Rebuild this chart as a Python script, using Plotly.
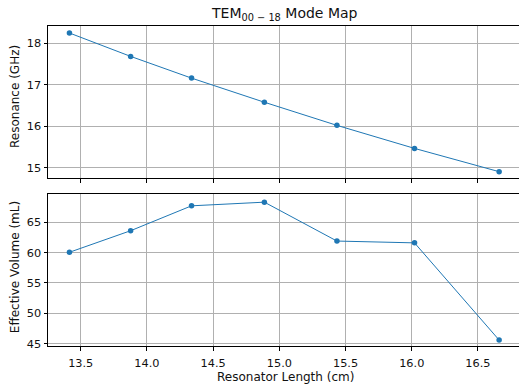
import plotly.graph_objects as go

# Resonator length sweep for the TEM00-18 mode
length_cm = [13.415, 13.877, 14.337, 14.887, 15.435, 16.021, 16.66]
resonance_ghz = [18.245, 17.683, 17.16, 16.58, 16.024, 15.47, 14.91]
eff_volume_ml = [60.05, 63.6, 67.7, 68.3, 61.9, 61.6, 45.6]

x_ticks = [13.5, 14.0, 14.5, 15.0, 15.5, 16.0, 16.5]
res_ticks = [15, 16, 17, 18]
vol_ticks = [45, 50, 55, 60, 65]

blue = "#1f77b4"
font = "DejaVu Sans"
W, H = 519, 385
L = 48

fig = go.Figure()
fig.add_trace(go.Scatter(x=length_cm, y=resonance_ghz, mode="lines+markers",
                         line=dict(color=blue, width=1), marker=dict(color=blue, size=5.5),
                         xaxis="x", yaxis="y", showlegend=False))
fig.add_trace(go.Scatter(x=length_cm, y=eff_volume_ml, mode="lines+markers",
                         line=dict(color=blue, width=1), marker=dict(color=blue, size=5.5),
                         xaxis="x2", yaxis="y2", showlegend=False))

xcommon = dict(range=[13.253, 16.81], tickvals=x_ticks, showgrid=True, gridcolor="#b0b0b0",
               gridwidth=1, showline=True, linecolor="black", linewidth=1, mirror=True,
               ticks="outside", ticklen=3.5, tickcolor="black", zeroline=False,
               tickfont=dict(family=font, size=11.3, color="#111"))
ycommon = dict(showgrid=True, gridcolor="#b0b0b0", gridwidth=1, showline=True,
               linecolor="black", linewidth=1, ticks="outside", ticklen=3.5,
               tickcolor="black", zeroline=False,
               tickfont=dict(family=font, size=11.3, color="#111"))

fig.update_layout(
    width=W, height=H,
    margin=dict(l=L, r=0, t=0, b=0),
    plot_bgcolor="white", paper_bgcolor="white",
    xaxis=dict(**xcommon, domain=[0, 1], anchor="y", showticklabels=False, matches="x2"),
    yaxis=dict(**ycommon, domain=[1 - 180 / H, 1 - 26 / H], range=[14.755, 18.42],
               tickvals=res_ticks, anchor="x"),
    xaxis2=dict(**xcommon, domain=[0, 1], anchor="y2", tickformat=".1f",
                ticklabelstandoff=3),
    yaxis2=dict(**ycommon, domain=[1 - 350 / H, 1 - 196.5 / H], range=[44.56, 69.57],
                tickvals=vol_ticks, anchor="x2"),
)

pw = W - L
def px_x(px):
    return (px - L) / pw

def px_y(py):
    return 1 - py / H

fig.add_annotation(text="TEM<sub>00 − 18</sub> Mode Map", x=px_x(284), y=px_y(14),
                   xref="paper", yref="paper", showarrow=False,
                   font=dict(family=font, size=14, color="#111"), xanchor="center", yanchor="middle")
fig.add_annotation(text="Resonance (GHz)", x=px_x(15), y=px_y(98), textangle=-90,
                   xref="paper", yref="paper", showarrow=False,
                   font=dict(family=font, size=12, color="#111"), xanchor="center", yanchor="middle")
fig.add_annotation(text="Effective Volume (mL)", x=px_x(15), y=px_y(270), textangle=-90,
                   xref="paper", yref="paper", showarrow=False,
                   font=dict(family=font, size=12, color="#111"), xanchor="center", yanchor="middle")
fig.add_annotation(text="Resonator Length (cm)", x=px_x(285), y=px_y(381),
                   xref="paper", yref="paper", showarrow=False,
                   font=dict(family=font, size=12, color="#111"), xanchor="center", yanchor="middle")

fig.write_html("out.html")
